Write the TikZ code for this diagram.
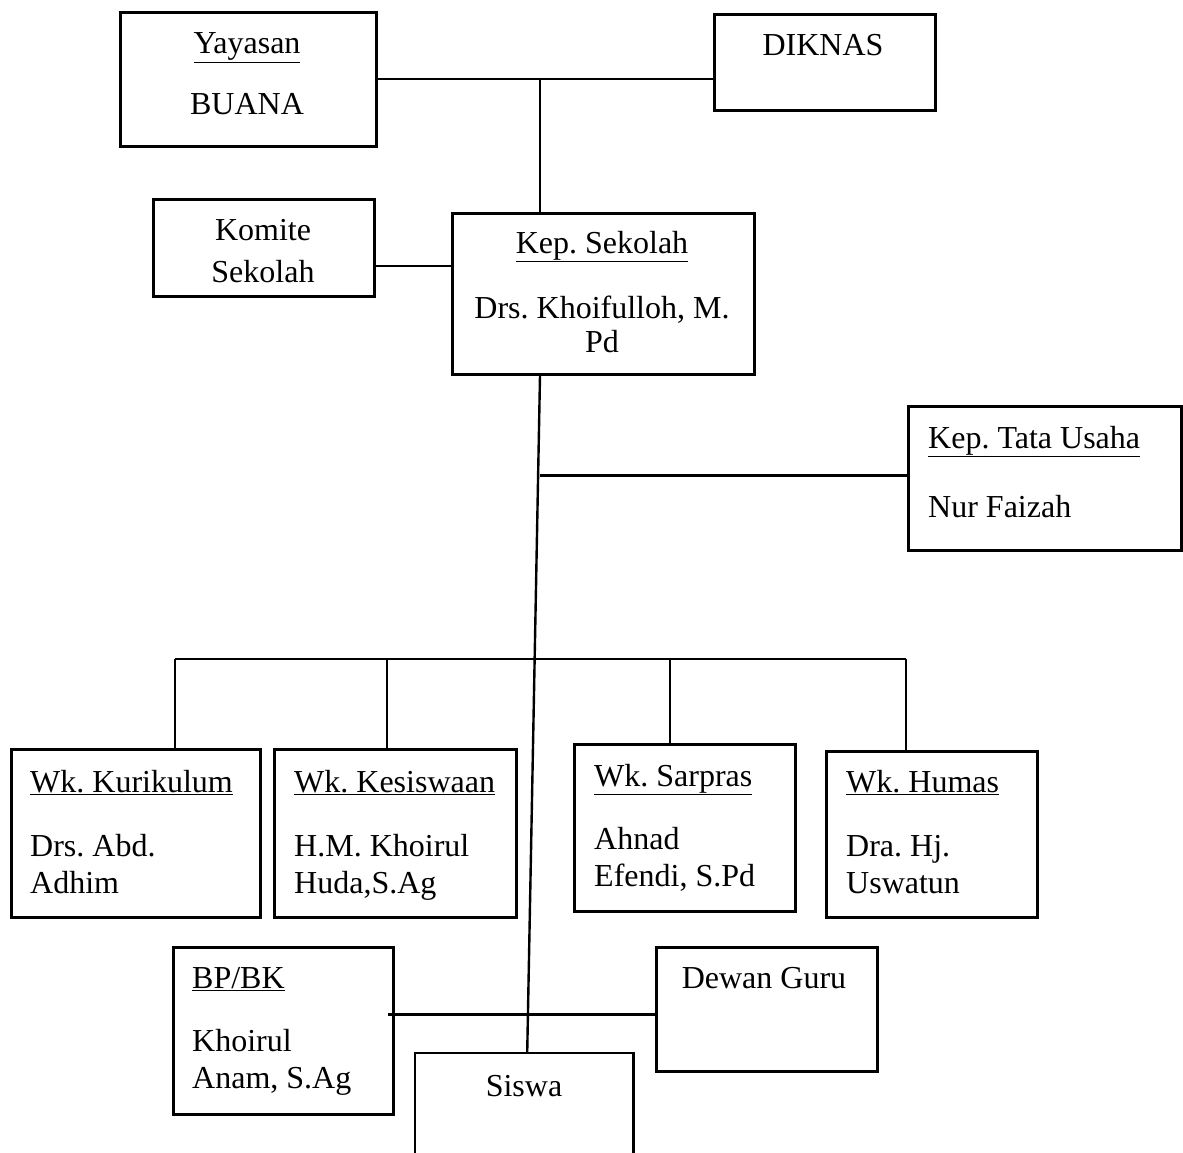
\documentclass[tikz,border=0pt]{standalone}
\usepackage{fontspec}
\setmainfont{Liberation Serif}
\frenchspacing
\begin{document}
\begin{tikzpicture}[x=1pt,y=-1pt,
    font=\fontsize{32}{37}\selectfont,
    unit/.style={draw,line width=2.6pt,inner sep=0pt,anchor=north west},
    link/.style={line width=2.4pt},
    lefttxt/.style={anchor=base west,align=left,inner sep=0pt},
    midtxt/.style={anchor=base,align=center,inner sep=0pt}]
    \useasboundingbox (0,0) rectangle (1183,1153);

    % boxes
    \node[unit,minimum width=256pt,minimum height=134pt] (yayasan) at (119,11) {};
    \node[unit,minimum width=221pt,minimum height=96pt] (diknas) at (713,13) {};
    \node[unit,minimum width=221pt,minimum height=97pt] (komite) at (152,198) {};
    \node[unit,minimum width=302pt,minimum height=161pt] (kepsek) at (451,212) {};
    \node[unit,minimum width=273pt,minimum height=144pt] (tu) at (907,405) {};
    \node[unit,minimum width=249pt,minimum height=168pt] (kur) at (10,748) {};
    \node[unit,minimum width=242pt,minimum height=168pt] (kes) at (273,748) {};
    \node[unit,minimum width=221pt,minimum height=167pt] (sar) at (573,743) {};
    \node[unit,minimum width=211pt,minimum height=166pt] (hum) at (825,750) {};
    \node[unit,minimum width=220pt,minimum height=167pt] (bpbk) at (172,946) {};
    \node[unit,minimum width=221pt,minimum height=124pt] (dewan) at (655,946) {};
    \node[inner sep=0pt,anchor=north west,minimum width=218pt,minimum height=120pt] (siswa) at (415,1053) {};
    \draw[line width=2.6pt] (siswa.south west) -- (siswa.north west) -- (siswa.north east) -- (siswa.south east);

    % texts (base = last line)
    \node[midtxt] (tyay) at (247,115) {\underline{Yayasan}\\[24pt]BUANA};
    \node[midtxt] (tdik) at (823,56) {DIKNAS};
    \node[midtxt] (tkom) at (263,282) {Komite\\[5pt]Sekolah};
    \node[midtxt] (tkep) at (602,352) {\underline{Kep. Sekolah}\\[28pt]Drs. Khoifulloh, M.\\[-3pt]Pd};
    \node[lefttxt] (ttu) at (928,517) {\underline{Kep. Tata Usaha}\\[32pt]Nur Faizah};
    \node[lefttxt] (tkur) at (30,893) {\underline{Wk. Kurikulum}\\[27pt]Drs. Abd.\\Adhim};
    \node[lefttxt] (tkes) at (294,893) {\underline{Wk. Kesiswaan}\\[27pt]H.M. Khoirul\\Huda,S.Ag};
    \node[lefttxt] (tsar) at (594,886) {\underline{Wk. Sarpras}\\[26pt]Ahnad\\Efendi, S.Pd};
    \node[lefttxt] (thum) at (846,893) {\underline{Wk. Humas}\\[27pt]Dra. Hj.\\Uswatun};
    \node[lefttxt] (tbp) at (192,1088) {\underline{BP/BK}\\[26pt]Khoirul\\Anam, S.Ag};
    \node[midtxt] (tdew) at (764,988) {Dewan Guru};
    \node[midtxt] (tsis) at (524,1096) {Siswa};

    % connectors
    \coordinate (jtop) at (540,78);
    \draw[link] (yayasan.east) -- (yayasan.east -| diknas.west);
    \draw[link] (jtop) -- (jtop |- kepsek.north);
    \draw[link] ([yshift=-18pt]komite.east) -- ([yshift=-18pt]komite.east -| kepsek.west);
    \coordinate (sw) at ([xshift=3pt]siswa.north);
    \draw[link] (jtop |- kepsek.south) -- (sw);
    \draw[link] ([yshift=3pt]tu.west) -- ([yshift=3pt]tu.west -| jtop);

    \coordinate (b1) at (175,659);
    \coordinate (b2) at (387,659);
    \coordinate (b3) at (670,659);
    \coordinate (b4) at (906,659);
    \draw[link] (b1) -- (b4);
    \draw[link] (b1) -- (b1 |- kur.north);
    \draw[link] (b2) -- (b2 |- kes.north);
    \draw[link] (b3) -- (b3 |- sar.north);
    \draw[link] (b4) -- (b4 |- hum.north);

    \draw[link] ([yshift=-5pt]dewan.west) -- ([yshift=-5pt,xshift=-7pt]dewan.west -| bpbk.east);
\end{tikzpicture}
\end{document}
